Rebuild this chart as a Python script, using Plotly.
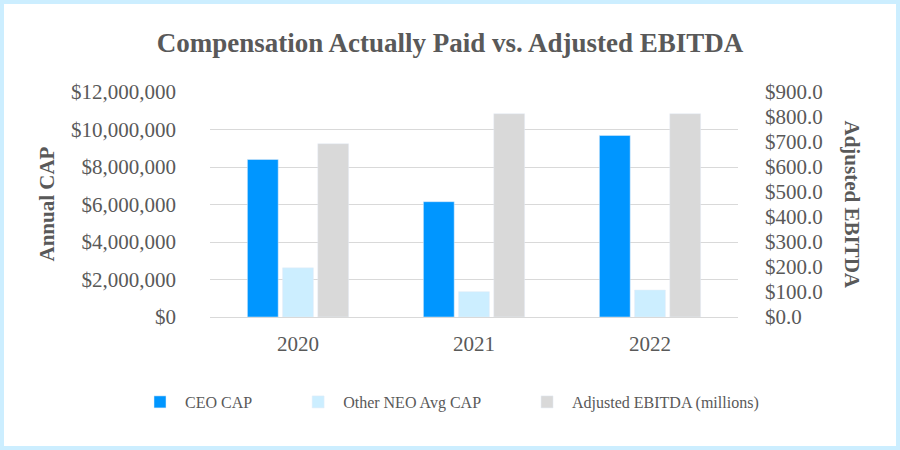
import plotly.graph_objects as go

years = ["2020", "2021", "2022"]
ceo_cap = [8400000, 6150000, 9680000]
neo_cap = [2620000, 1350000, 1440000]
ebitda = [693.0, 813.0, 813.0]

left_ticks = [0, 2000000, 4000000, 6000000, 8000000, 10000000, 12000000]
left_labels = ["$0", "$2,000,000", "$4,000,000", "$6,000,000", "$8,000,000", "$10,000,000", "$12,000,000"]
right_ticks = [0, 100, 200, 300, 400, 500, 600, 700, 800, 900]
right_labels = ["$%.1f" % v for v in right_ticks]

W, H = 900, 450
ML, MR, MT, MB = 210, 162, 92, 133
PW, PH = W - ML - MR, H - MT - MB

FONT = "Liberation Serif"
GREY = "#595959"
PAD = "\u00a0" * 9

bw = 0.175
fig = go.Figure()
fig.add_trace(go.Bar(x=years, y=ceo_cap, name="CEO CAP" + PAD, marker_color="#0096FF",
                     width=bw, offset=-0.2875, yaxis="y"))
fig.add_trace(go.Bar(x=years, y=neo_cap, name="Other NEO Avg CAP" + PAD, marker_color="#CCEEFF",
                     width=bw, offset=-0.0875, yaxis="y"))
fig.add_trace(go.Bar(x=years, y=ebitda, name="Adjusted EBITDA (millions)", marker_color="#D9D9D9",
                     width=bw, offset=0.1125, yaxis="y2"))

fig.update_layout(
    width=W, height=H,
    margin=dict(l=ML, r=MR, t=MT, b=MB),
    paper_bgcolor="white", plot_bgcolor="white",
    barmode="overlay",
    font=dict(family=FONT, color=GREY, size=21),
    title=dict(text="<b>Compensation Actually Paid vs. Adjusted EBITDA</b>",
               x=0.5, xanchor="center", y=1 - 43 / H, yanchor="middle",
               font=dict(family=FONT, size=27, color=GREY)),
    xaxis=dict(type="category", showgrid=False, showline=True, linecolor="#D9D9D9",
               linewidth=1, ticks="", tickfont=dict(size=21, color=GREY), ticklabelstandoff=8),
    yaxis=dict(range=[0, 12000000], tickvals=left_ticks, ticktext=left_labels,
               showgrid=True, gridcolor="#D9D9D9", gridwidth=1, zeroline=False,
               showline=False, ticks="", tickfont=dict(size=21, color=GREY), ticklabelstandoff=33),
    yaxis2=dict(range=[0, 900], tickvals=right_ticks, ticktext=right_labels,
                overlaying="y", side="right", showgrid=False, zeroline=False,
                showline=False, ticks="", tickfont=dict(size=21, color=GREY), ticklabelstandoff=26),
    legend=dict(orientation="h", x=(135 - ML) / PW, xanchor="left", y=-(402 - 317) / PH, yanchor="middle",
                font=dict(size=16, color=GREY), itemwidth=40, tracegroupgap=0),
    showlegend=True,
)

fig.add_annotation(text="<b>Annual CAP</b>", xref="paper", yref="paper",
                   x=-(ML - 46) / PW, y=0.5, xanchor="center", yanchor="middle",
                   textangle=-90, showarrow=False, font=dict(family=FONT, size=21, color=GREY))
fig.add_annotation(text="<b>Adjusted EBITDA</b>", xref="paper", yref="paper",
                   x=(852 - ML) / PW, y=0.5, xanchor="center", yanchor="middle",
                   textangle=90, showarrow=False, font=dict(family=FONT, size=21, color=GREY))

# outer light-blue frame
fig.add_shape(type="rect", xref="paper", yref="paper",
              x0=-(ML - 2) / PW, x1=(W - ML - 2) / PW,
              y0=-(MB - 2) / PH, y1=(H - MB - 2) / PH,
              line=dict(color="#CCEEFF", width=4), fillcolor="rgba(0,0,0,0)", layer="below")

fig.write_html("out.html", config={"displayModeBar": False},
               post_script="document.body.style.margin='0px';document.body.style.padding='0px';")
